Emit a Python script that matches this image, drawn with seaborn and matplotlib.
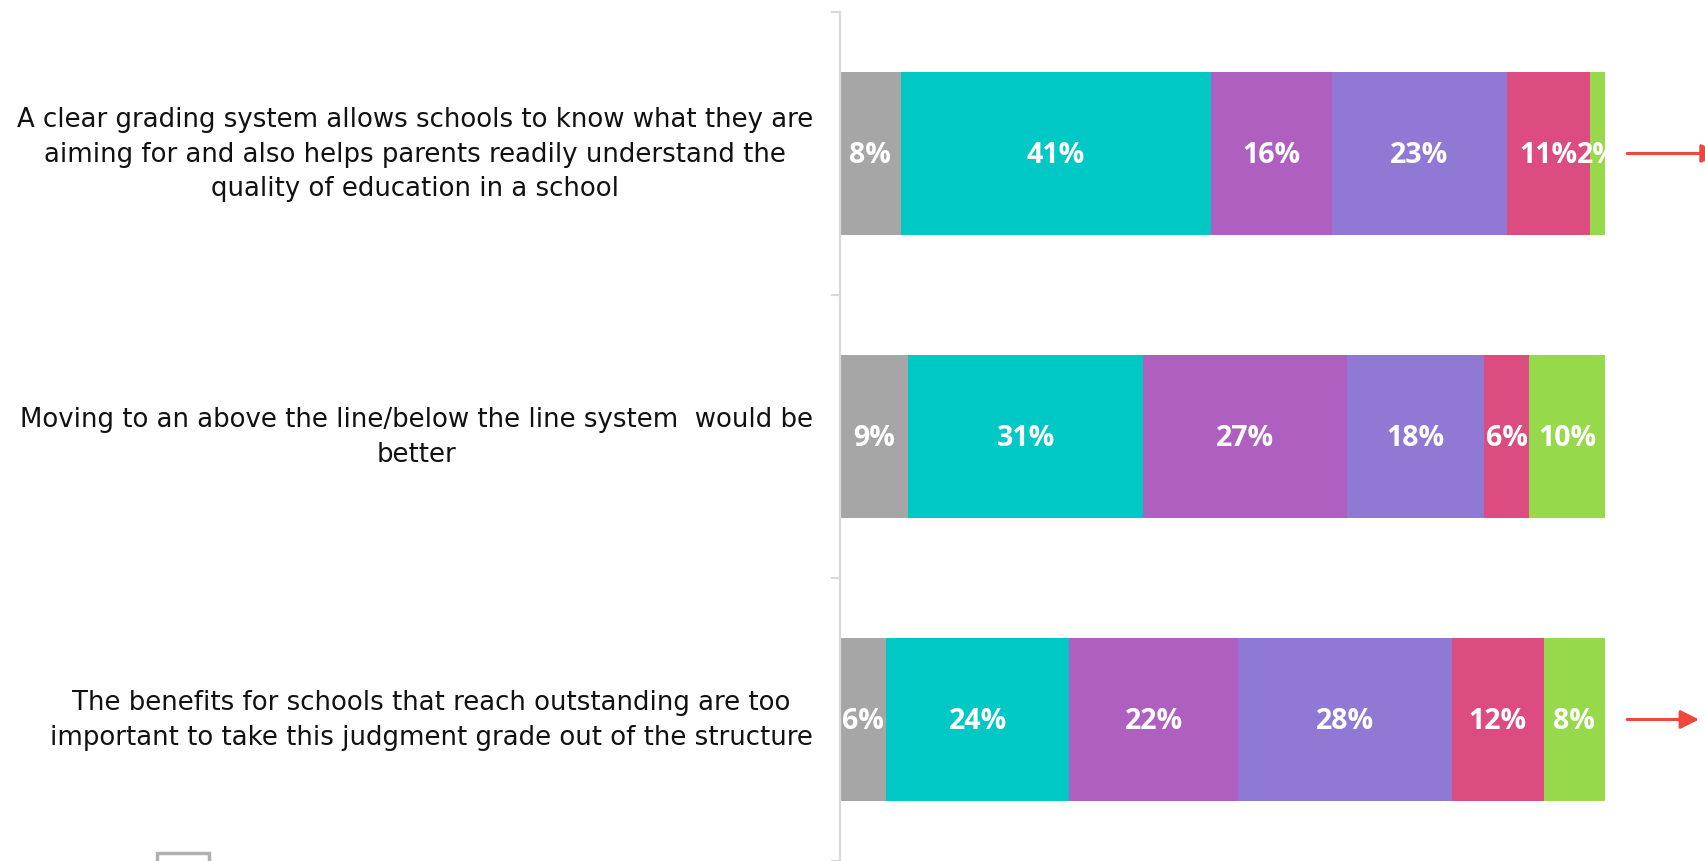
import numpy as np
import pandas as pd
import seaborn as sns
import matplotlib.pyplot as plt
from matplotlib.patches import Rectangle

# Survey statements (one per bar)
statements = [
    "A clear grading system allows schools to know what they are\naiming for and also helps parents readily understand the\nquality of education in a school",
    "Moving to an above the line/below the line system  would be\nbetter",
    "The benefits for schools that reach outstanding are too\nimportant to take this judgment grade out of the structure",
]

# Response shares (%) per segment, left to right
seg_gray = [8, 9, 6]
seg_teal = [41, 31, 24]
seg_purple = [16, 27, 22]
seg_lavender = [23, 18, 28]
seg_pink = [11, 6, 12]
seg_green = [2, 10, 8]

# Rows flagged with an arrow on the right (arrow tip position in % units)
flagged = [True, False, True]
arrow_tip = [115.0, None, 112.3]

series = [seg_gray, seg_teal, seg_purple, seg_lavender, seg_pink, seg_green]
colors = ["#A6A6A6", "#00C8C5", "#AF5FC0", "#9079D4", "#DC4C80", "#96DA4B"]

sns.set_theme(style="white")
plt.rcParams["font.family"] = ["DejaVu Sans"]

W, H, DPI = 17.06, 8.61, 100
fig = plt.figure(figsize=(W, H), dpi=DPI)
ax_left = 840 / 1706
ax_top = 1 - 12 / 861
ax = fig.add_axes([ax_left, 0.0, 1 - ax_left, ax_top])

vals = np.array(series, dtype=float)          # (segments, rows)
totals = vals.sum(axis=0)
shares = vals / totals * 100                   # each bar spans the full 100
cum = np.cumsum(shares, axis=0)

keys = ["r0", "r1", "r2"]
# Stack by drawing cumulative totals from the outermost segment inward
for i in range(len(series) - 1, -1, -1):
    df = pd.DataFrame({"cat": keys, "end": cum[i]})
    sns.barplot(data=df, x="end", y="cat", orient="h", color=colors[i],
                width=0.576, saturation=1, ax=ax, linewidth=0)

# Segment value labels
for i in range(len(series)):
    for r in range(len(keys)):
        mid = cum[i][r] - shares[i][r] / 2
        ax.text(mid, r + 0.008, f"{int(vals[i][r])}%", ha="center", va="center",
                color="white", fontsize=20.5, fontweight="bold",
                family=["Open Sans", "DejaVu Sans"])

# Right-hand arrows
for r, flag in enumerate(flagged):
    if flag:
        ax.annotate("", xy=(arrow_tip[r], r), xytext=(102.9, r),
                    arrowprops=dict(arrowstyle="-|>", color="#F0463C", lw=2.2,
                                    mutation_scale=28, shrinkA=0, shrinkB=0),
                    annotation_clip=False)

# Statement labels to the left of the axis
for r, text in enumerate(statements):
    ax.annotate(text, xy=(0, r), xycoords=ax.get_yaxis_transform(),
                xytext=(-27, -1), textcoords="offset pixels",
                ha="right", va="center", multialignment="center",
                fontsize=18.7, linespacing=1.42, color="#111111",
                annotation_clip=False)

ax.set_xlim(0, (1706 - 840) / 765 * 100)
ax.set_ylim(2.5, -0.5)
ax.set_xlabel("")
ax.set_ylabel("")
ax.set_xticks([])
ax.set_yticks([])
ax.set_yticks([-0.5, 0.5, 1.5, 2.5], minor=True)
ax.tick_params(axis="y", which="minor", left=True, length=6.5, width=1.5,
               color="#D9D9D9")

for side in ["top", "right", "bottom"]:
    ax.spines[side].set_visible(False)
ax.spines["left"].set_color("#D9D9D9")
ax.spines["left"].set_linewidth(1.6)

# Partially visible legend swatch at the lower edge
fig.patches.append(Rectangle((157 / 1706, -30 / 861), 52 / 1706, 38 / 861,
                             transform=fig.transFigure, facecolor="white",
                             edgecolor="#B0B0B0", linewidth=2.5, figure=fig))

fig.savefig("out.png", dpi=DPI)
